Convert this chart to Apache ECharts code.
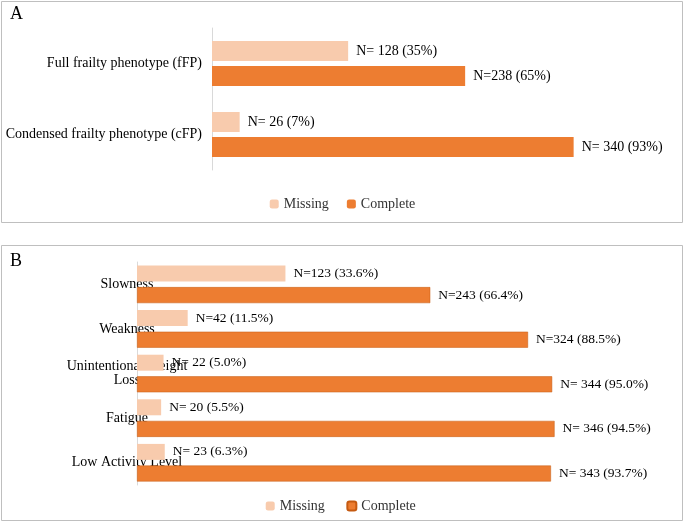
<!DOCTYPE html><html><head><meta charset="utf-8">
<script src="https://cdn.jsdelivr.net/npm/echarts@6/dist/echarts.min.js"></script>
<style>html,body{margin:0;padding:0;background:#fff}#c{width:685px;height:524px}</style></head><body><div id="c"></div><script>
const catsA=['Full frailty phenotype (fFP)','Condensed frailty phenotype (cFP)'];
const missA=[128,26], compA=[238,340];
const missALab=['N= 128 (35%)','N= 26 (7%)'], compALab=['N=238 (65%)','N= 340 (93%)'];
const catsB=['Slowness','Weakness','Unintentional Weight\nLoss','Fatigue','Low Activity Level'];
const missB=[123,42,22,20,23], compB=[243,324,344,346,343];
const missBLab=['N=123 (33.6%)','N=42 (11.5%)','N= 22 (5.0%)','N= 20 (5.5%)','N= 23 (6.3%)'];
const compBLab=['N=243 (66.4%)','N=324 (88.5%)','N= 344 (95.0%)','N= 346 (94.5%)','N= 343 (93.7%)'];
const F='Liberation Serif', CM='#F8CBAD', CC='#ED7D31';
const lab=(arr,sz)=>({show:true,position:'right',distance:8,fontFamily:F,fontSize:sz,color:'#000',formatter:p=>arr[p.dataIndex]});
const ch=echarts.init(document.getElementById('c'));
ch.setOption({animation:false,
graphic:[
{type:'rect',shape:{x:1.5,y:1.5,width:681,height:221},style:{fill:'none',stroke:'#bfbfbf',lineWidth:1}},
{type:'rect',shape:{x:1.5,y:245.5,width:681,height:275},style:{fill:'none',stroke:'#bfbfbf',lineWidth:1}},
{type:'text',left:10,top:5,style:{text:'A',font:'18px "Liberation Serif"',fill:'#000'}},
{type:'text',left:10,top:252,style:{text:'B',font:'18px "Liberation Serif"',fill:'#000'}}],
legend:[{gridIndex:0,data:['Missing','Complete'],top:192,left:'center',itemWidth:9,itemHeight:9,itemGap:18,textStyle:{fontFamily:F,fontSize:14,color:'#333'}},
{data:['Missing ','Complete '],top:494,left:'center',itemWidth:9,itemHeight:9,itemGap:18,textStyle:{fontFamily:F,fontSize:14,color:'#333'}}],
grid:[{left:212,top:28,height:142,width:468},{left:137,top:262,height:223,width:531}],
xAxis:[{gridIndex:0,min:0,max:440,show:false},{gridIndex:1,min:0,max:440,show:false}],
yAxis:[{gridIndex:0,type:'category',data:catsA,inverse:true,axisTick:{show:false},axisLine:{lineStyle:{color:'#d9d9d9'}},axisLabel:{fontFamily:F,fontSize:14,color:'#000',margin:10}},
{gridIndex:1,type:'category',data:catsB,inverse:true,axisTick:{show:false},axisLine:{lineStyle:{color:'#d9d9d9'}},axisLabel:{fontFamily:F,fontSize:14,color:'#000',margin:10,align:'center',padding:[0,0,0,0],width:130,overflow:'break',formatter:v=>v,rich:{}},}],
series:[
{name:'Missing',type:'bar',xAxisIndex:0,yAxisIndex:0,data:missA,itemStyle:{color:CM},barWidth:20,barGap:'25%',label:lab(missALab,14)},
{name:'Complete',type:'bar',xAxisIndex:0,yAxisIndex:0,data:compA,itemStyle:{color:CC},barWidth:20,barGap:'25%',label:lab(compALab,14)},
{name:'Missing ',type:'bar',xAxisIndex:1,yAxisIndex:1,data:missB,itemStyle:{color:CM},barWidth:16,barGap:'35%',label:lab(missBLab,13.5)},
{name:'Complete ',type:'bar',xAxisIndex:1,yAxisIndex:1,data:compB,itemStyle:{color:CC,borderColor:'#c55a11',borderWidth:0.5},barWidth:16,barGap:'35%',label:lab(compBLab,13.5)}]
});
</script></body></html>
